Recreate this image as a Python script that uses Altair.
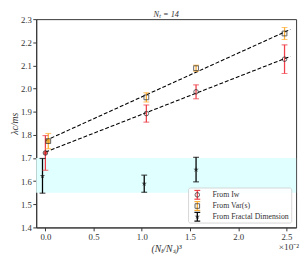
import altair as alt
import pandas as pd

# ---- data (x in units of 1e-2) ----
x_pts = [0.0, 1.047, 1.5625, 2.48]
iw_y = [1.722, 1.892, 1.986, 2.127]
iw_err = [0.075, 0.037, 0.030, 0.062]
var_x = [0.03, 1.047, 1.5625, 2.48]
var_y = [1.773, 1.962, 2.088, 2.238]
var_err = [0.033, 0.020, 0.013, 0.026]
fd_x = [-0.03, 1.025, 1.5625]
fd_y = [1.623, 1.589, 1.650]
fd_err = [0.075, 0.037, 0.053]
band = [1.55, 1.70]
fit_extent = [0.0, 2.54]
x_ticks = [0.0, 0.5, 1.0, 1.5, 2.0, 2.5]
y_ticks = [1.4, 1.5, 1.6, 1.7, 1.8, 1.9, 2.0, 2.1, 2.2, 2.3]
labels = ["From Iw", "From Var(s)", "From Fractal Dimension"]
title_text = "Nₜ = 14"

RED = "#f0414b"
ORANGE = "#ffad33"
FONT = "Liberation Serif"
W, H = 267, 214

rows = []
for i, (x, y, e) in enumerate(zip(x_pts, iw_y, iw_err)):
    rows.append(dict(series="iw", x=x, y=y, err=e, extrap=(i == 0)))
for i, (x, y, e) in enumerate(zip(var_x, var_y, var_err)):
    rows.append(dict(series="var", x=x, y=y, err=e, extrap=(i == 0)))
for x, y, e in zip(fd_x, fd_y, fd_err):
    rows.append(dict(series="fd", x=x, y=y, err=e, extrap=False))
df = pd.DataFrame(rows)
df["lo"] = df["y"] - df["err"]
df["hi"] = df["y"] + df["err"]

xs = alt.Scale(domain=[-0.095, 2.60], nice=False, zero=False)
ys = alt.Scale(domain=[1.4, 2.3], nice=False, zero=False)
xax = alt.Axis(values=x_ticks, format=".1f", title="(Nₜ/Nₛ)³", grid=False,
               titleFontStyle="italic", labelOverlap=False, titlePadding=3)
yax = alt.Axis(values=y_ticks, format=".1f", title="λc/ms", grid=False,
               titleFontStyle="italic", labelOverlap=False, titlePadding=1)


def X(field):
    return alt.X(field, type="quantitative", scale=xs, axis=xax)


def Y(field):
    return alt.Y(field, type="quantitative", scale=ys, axis=yax)


col = alt.Color("series:N", scale=alt.Scale(domain=["iw", "var", "fd"],
                                            range=[RED, ORANGE, "black"]), legend=None)

base = alt.Chart(df)

band_df = pd.DataFrame({"lo": [band[0]], "hi": [band[1]]})
band_layer = alt.Chart(band_df).mark_rect(color="#e0ffff").encode(
    x=alt.value(0), x2=alt.value(W), y=Y("lo"), y2="hi:Q")

fit = base.transform_filter("!datum.extrap && datum.series != 'fd'").transform_regression(
    "x", "y", groupby=["series"], extent=fit_extent
).mark_line(color="black", strokeDash=[4, 2], strokeWidth=1.1).encode(
    x=X("x"), y=Y("y"), detail="series:N")

bars = base.mark_rule(strokeWidth=1.3).encode(x=X("x"), y=Y("lo"), y2="hi:Q", color=col)
cap_lo = base.mark_tick(orient="horizontal", size=6, thickness=1.2).encode(
    x=X("x"), y=Y("lo"), color=col)
cap_hi = base.mark_tick(orient="horizontal", size=6, thickness=1.2).encode(
    x=X("x"), y=Y("hi"), color=col)

circles = base.transform_filter("datum.series == 'iw'").mark_point(
    shape="circle", size=22, filled=False, stroke="#222", strokeWidth=1).encode(
    x=X("x"), y=Y("y"),
    fill=alt.condition("datum.extrap", alt.value("#d01515"), alt.value("transparent")))
squares = base.transform_filter("datum.series == 'var'").mark_point(
    shape="square", size=24, filled=False, stroke="#222", strokeWidth=1).encode(
    x=X("x"), y=Y("y"),
    fill=alt.condition("datum.extrap", alt.value("#e89a10"), alt.value("transparent")))
STAR = ("M0,-1L0.2245,-0.309L0.951,-0.309L0.363,0.118L0.588,0.809L0,0.382"
        "L-0.588,0.809L-0.363,0.118L-0.951,-0.309L-0.2245,-0.309Z")
stars = base.transform_filter("datum.series == 'fd'").mark_point(
    shape=STAR, size=34, filled=True, color="#111").encode(x=X("x"), y=Y("y"))

# ---- legend drawn by hand ----
one = pd.DataFrame({"k": [0]})
lg = [alt.Chart(one).mark_rect(fill="white", fillOpacity=0.85, stroke="#cccccc",
                               strokeWidth=0.8, cornerRadius=2).encode(
    x=alt.value(156.5), x2=alt.value(262.5), y=alt.value(173.5), y2=alt.value(209.5))]
row_y = [180.5, 192.0, 203.0]
row_col = [RED, ORANGE, "black"]
row_shape = ["circle", "square", STAR]
sx, tx = 165.5, 181
for ry, c, shp, lab in zip(row_y, row_col, row_shape, labels):
    lg.append(alt.Chart(one).mark_rule(color=c, strokeWidth=1.3).encode(
        x=alt.value(sx), y=alt.value(ry - 4.5), y2=alt.value(ry + 4.5)))
    for cy in (ry - 4.5, ry + 4.5):
        lg.append(alt.Chart(one).mark_rule(color=c, strokeWidth=1.2).encode(
            x=alt.value(sx - 3), x2=alt.value(sx + 3), y=alt.value(cy)))
    if shp == STAR:
        lg.append(alt.Chart(one).mark_point(shape=shp, size=34, filled=True, color="#111").encode(
            x=alt.value(sx), y=alt.value(ry)))
    else:
        lg.append(alt.Chart(one).mark_point(shape=shp, size=22, filled=False, stroke="#222",
                                            strokeWidth=1).encode(
            x=alt.value(sx), y=alt.value(ry)))
    lg.append(alt.Chart(one).mark_text(text=lab, align="left", baseline="middle", font=FONT,
                                       fontSize=8, color="#333").encode(
        x=alt.value(tx), y=alt.value(ry)))

mult = alt.Chart(one).mark_text(text="×10⁻²", align="right", baseline="middle", font=FONT,
                                fontSize=9.5, color="#333").encode(
    x=alt.value(W + 3), y=alt.value(H + 20))

title = alt.Chart(one).mark_text(text=title_text, align="center", baseline="alphabetic",
                                 font=FONT, fontSize=8.5, fontStyle="italic",
                                 color="#333").encode(
    x=alt.value(W / 2), y=alt.value(-2))

chart = alt.layer(band_layer, fit, bars, cap_lo, cap_hi, circles, squares, stars,
                  *lg, mult, title).properties(
    width=W, height=H,
    autosize=alt.AutoSizeParams(type="none"),
    padding={"left": 29, "top": 8, "right": 4, "bottom": 30},
).configure_view(stroke="#333", strokeWidth=1).configure_axis(
    labelFont=FONT, titleFont=FONT, labelFontSize=9, titleFontSize=10,
    labelColor="#333", titleColor="#333", domainColor="#333", tickColor="#333",
    tickSize=3.5, titleFontWeight="normal", labelPadding=1.5)

chart.save("out.html", embed_options={"renderer": "svg", "actions": False})
